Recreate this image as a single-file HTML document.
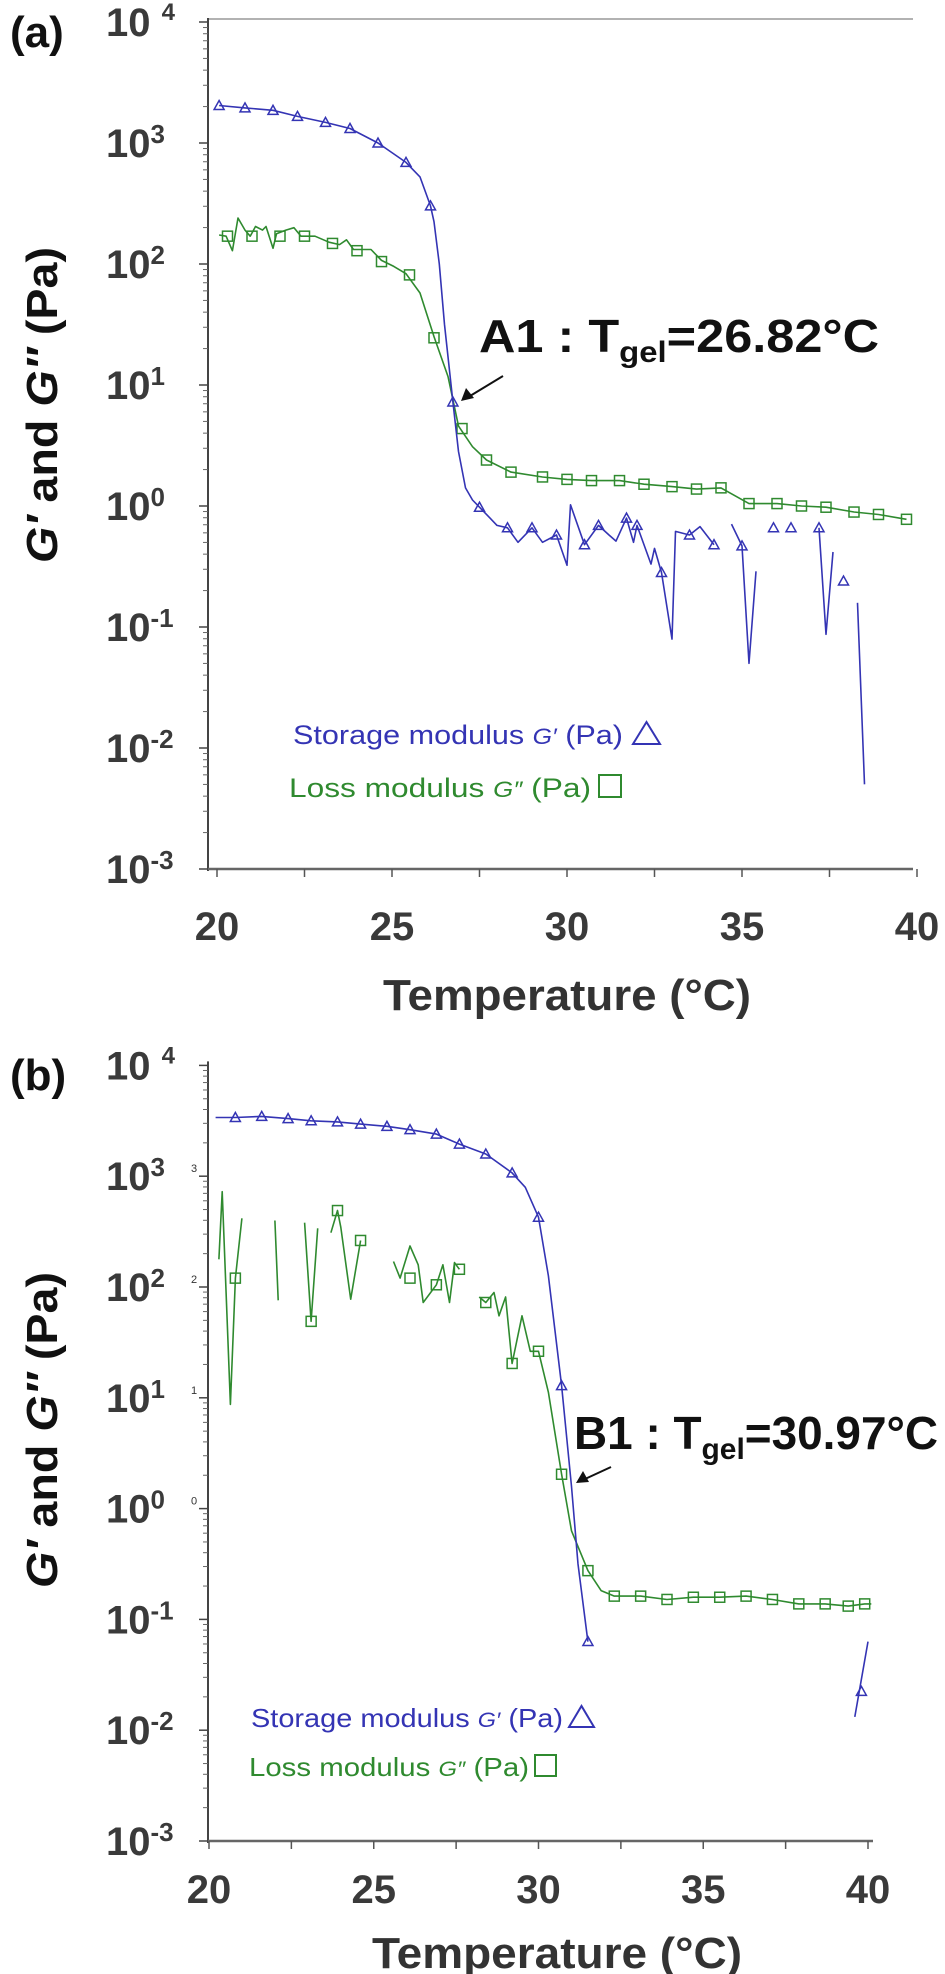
<!DOCTYPE html>
<html><head><meta charset="utf-8">
<style>
html,body{margin:0;padding:0;background:#fff;}
svg{display:block;}
text{font-family:"Liberation Sans",sans-serif;}
</style></head>
<body>
<svg id="chart" width="945" height="1974" viewBox="0 0 945 1974" xmlns="http://www.w3.org/2000/svg">
  <rect x="0" y="0" width="945" height="1974" fill="#fff"/>
  <text x="10" y="47" font-size="44" font-weight="bold" fill="#111">(a)</text>
  <text transform="translate(57,405) rotate(-90)" text-anchor="middle" font-size="44" font-weight="bold" fill="#111" textLength="316" lengthAdjust="spacingAndGlyphs"><tspan font-style="italic">G′</tspan> and <tspan font-style="italic">G″</tspan> (Pa)</text>
  <text x="567" y="1010" text-anchor="middle" font-size="44" font-weight="bold" fill="#333" textLength="368" lengthAdjust="spacingAndGlyphs">Temperature (°C)</text>
  <text x="479" y="352" font-size="46" font-weight="bold" fill="#111" textLength="400" lengthAdjust="spacingAndGlyphs">A1 : T<tspan font-size="30" dy="10">gel</tspan><tspan dy="-10">=26.82°C</tspan></text>
  <g>
    <line x1="503" y1="376" x2="470" y2="396" stroke="#111" stroke-width="2"/>
    <polygon points="461,401 466,388 474,398" fill="#111"/>
  </g>
  <g>
    <text x="293" y="744" font-size="27" fill="#3434b4" textLength="330" lengthAdjust="spacingAndGlyphs">Storage modulus <tspan font-style="italic" font-size="22">G′</tspan> (Pa)</text>
    <polygon points="633,744 660,744 646.5,722" fill="none" stroke="#3434b4" stroke-width="2"/>
    <text x="289" y="797" font-size="27" fill="#2f8a2f" textLength="302" lengthAdjust="spacingAndGlyphs">Loss modulus <tspan font-style="italic" font-size="22">G″</tspan> (Pa)</text>
    <rect x="599" y="775" width="22" height="22" fill="none" stroke="#2f8a2f" stroke-width="2"/>
  </g>
  <text x="10" y="1090" font-size="44" font-weight="bold" fill="#111">(b)</text>
  <text transform="translate(57,1430) rotate(-90)" text-anchor="middle" font-size="44" font-weight="bold" fill="#111" textLength="316" lengthAdjust="spacingAndGlyphs"><tspan font-style="italic">G′</tspan> and <tspan font-style="italic">G″</tspan> (Pa)</text>
  <text x="557" y="1968" text-anchor="middle" font-size="44" font-weight="bold" fill="#333" textLength="370" lengthAdjust="spacingAndGlyphs">Temperature (°C)</text>
  <text x="574" y="1449" font-size="46" font-weight="bold" fill="#111" textLength="364" lengthAdjust="spacingAndGlyphs">B1 : T<tspan font-size="30" dy="10">gel</tspan><tspan dy="-10">=30.97°C</tspan></text>
  <g>
    <line x1="611" y1="1467" x2="585" y2="1479" stroke="#111" stroke-width="2"/>
    <polygon points="576,1483 583,1471 589,1482" fill="#111"/>
  </g>
  <g>
    <text x="251" y="1727" font-size="26" fill="#3434b4" textLength="312" lengthAdjust="spacingAndGlyphs">Storage modulus <tspan font-style="italic" font-size="21">G′</tspan> (Pa)</text>
    <polygon points="569,1727 594,1727 581.5,1706" fill="none" stroke="#3434b4" stroke-width="2"/>
    <text x="249" y="1776" font-size="26" fill="#2f8a2f" textLength="280" lengthAdjust="spacingAndGlyphs">Loss modulus <tspan font-style="italic" font-size="21">G″</tspan> (Pa)</text>
    <rect x="535" y="1755" width="21" height="21" fill="none" stroke="#2f8a2f" stroke-width="2"/>
  </g>
  <g id="plots"></g>
</svg>
<script>
// ---------- Panel A data (temperature °C, log10 modulus Pa) ----------
const aTicksX = [20, 25, 30, 35, 40];
const aDecades = [-3, -2, -1, 0, 1, 2, 3, 4];
const aGpT = [20.06,20.8,21.6,22.3,23.1,23.8,24.6,25.4,25.8,26.1,26.2,26.35,26.5,26.74,26.9,27.1,27.3,27.5,27.8,28.0,28.3,28.6,29.0,29.3,29.7,30.0,30.1,30.5,30.9,31.2,31.4,31.7,31.9,32.0,32.4,32.5,32.7,33.0,33.1,33.5,33.8,34.2,null,34.7,35.0,35.2,35.4,null,37.2,37.4,37.6,null,38.3,38.5];
const aGpV = [3.31,3.29,3.27,3.22,3.17,3.12,3.0,2.84,2.72,2.48,2.35,2.0,1.5,0.86,0.45,0.15,0.05,-0.01,-0.1,-0.16,-0.18,-0.3,-0.18,-0.3,-0.24,-0.49,0.01,-0.32,-0.16,-0.24,-0.29,-0.1,-0.3,-0.16,-0.48,-0.35,-0.55,-1.1,-0.21,-0.24,-0.17,-0.32,null,-0.15,-0.33,-1.3,-0.54,null,-0.18,-1.06,-0.38,null,-0.8,-2.3];
const aGpMarkT = [20.06,20.8,21.6,22.3,23.1,23.8,24.6,25.4,26.1,26.74,27.5,28.3,29.0,29.7,30.5,30.9,31.7,32.0,32.7,33.5,34.2,35.0,35.9,36.4,37.2,37.9];
const aGpMarkV = [3.31,3.29,3.27,3.22,3.17,3.12,3.0,2.84,2.48,0.86,-0.01,-0.18,-0.18,-0.24,-0.32,-0.16,-0.1,-0.16,-0.55,-0.24,-0.32,-0.33,-0.18,-0.18,-0.18,-0.62];
const aGppT = [20.06,20.26,20.44,20.6,20.8,20.95,21.1,21.3,21.4,21.6,21.7,21.97,22.2,22.4,22.8,23.2,23.5,23.7,23.9,24.4,24.7,25.05,25.4,25.8,26.2,26.6,26.9,27.3,27.7,28.4,29.3,30.0,30.7,31.5,32.2,33.0,33.7,34.4,35.2,36.0,36.7,37.4,38.2,38.9,39.7];
const aGppV = [2.24,2.23,2.11,2.38,2.28,2.23,2.31,2.28,2.31,2.13,2.25,2.28,2.30,2.23,2.23,2.18,2.16,2.2,2.12,2.12,2.03,1.98,1.92,1.76,1.40,1.07,0.66,0.49,0.38,0.28,0.24,0.22,0.21,0.21,0.18,0.16,0.14,0.15,0.02,0.02,0.0,-0.01,-0.05,-0.07,-0.11];
const aGppMarkT = [20.3,21.0,21.8,22.5,23.3,24.0,24.7,25.5,26.2,27.0,27.7,28.4,29.3,30.0,30.7,31.5,32.2,33.0,33.7,34.4,35.2,36.0,36.7,37.4,38.2,38.9,39.7];
const aGppMarkV = [2.23,2.23,2.23,2.23,2.17,2.11,2.02,1.91,1.39,0.64,0.38,0.28,0.24,0.22,0.21,0.21,0.18,0.16,0.14,0.15,0.02,0.02,0.0,-0.01,-0.05,-0.07,-0.11];

// ---------- Panel B data ----------
const bTicksX = [20, 25, 30, 35, 40];
const bDecades = [-3, -2, -1, 0, 1, 2, 3, 4];
const bGpT = [20.2,20.8,21.6,22.4,23.1,23.9,24.6,25.4,26.1,26.9,27.6,28.4,29.2,29.6,30.0,30.3,30.7,31.0,31.2,31.5,null,39.6,40.0];
const bGpV = [3.53,3.53,3.54,3.52,3.50,3.49,3.47,3.45,3.42,3.38,3.29,3.20,3.03,2.9,2.63,2.1,1.11,0.2,-0.5,-1.2,null,-1.88,-1.2];
const bGpMarkT = [20.8,21.6,22.4,23.1,23.9,24.6,25.4,26.1,26.9,27.6,28.4,29.2,30.0,30.7,31.5,39.8];
const bGpMarkV = [3.53,3.54,3.52,3.50,3.49,3.47,3.45,3.42,3.38,3.29,3.20,3.03,2.63,1.11,-1.2,-1.65];
const bGppT = [20.3,20.4,20.65,20.8,21.0,null,22.0,22.1,null,22.9,23.1,23.3,null,23.7,23.9,24.0,24.3,24.6,null,25.6,25.8,26.1,26.35,26.5,26.9,27.1,27.3,27.45,27.6,null,28.2,28.4,28.65,28.8,29.0,29.2,29.5,29.75,30.0,30.3,30.7,31.0,31.5,31.9,32.3,33.1,33.9,34.7,35.5,36.3,37.1,37.9,38.7,39.4,39.9,40.1];
const bGppV = [2.25,2.86,0.94,2.08,2.62,null,2.6,1.88,null,2.58,1.69,2.53,null,2.49,2.69,2.54,1.89,2.42,null,2.23,2.08,2.37,2.2,1.86,2.02,2.2,1.86,2.22,2.16,null,1.91,1.86,1.95,1.74,1.91,1.31,1.74,1.42,1.42,1.05,0.31,-0.2,-0.56,-0.74,-0.79,-0.79,-0.82,-0.8,-0.8,-0.79,-0.82,-0.86,-0.86,-0.88,-0.86,-0.86];
const bGppMarkT = [20.8,23.1,23.9,24.6,26.1,26.9,27.6,28.4,29.2,30.0,30.7,31.5,32.3,33.1,33.9,34.7,35.5,36.3,37.1,37.9,38.7,39.4,39.9];
const bGppMarkV = [2.08,1.69,2.69,2.42,2.08,2.02,2.16,1.86,1.31,1.42,0.31,-0.56,-0.79,-0.79,-0.82,-0.8,-0.8,-0.79,-0.82,-0.86,-0.86,-0.88,-0.86];

const NS = "http://www.w3.org/2000/svg";
const BLUE = "#3434b4", GREEN = "#2f8a2f", AXIS = "#444";
const root = document.getElementById('plots');
function mk(tag, attrs, parent) {
  const e = document.createElementNS(NS, tag);
  for (const k in attrs) e.setAttribute(k, attrs[k]);
  (parent || root).appendChild(e);
  return e;
}

function drawPanel(cfg) {
  const g = mk('g', {});
  
  
  const X = t => cfg.x0 + (t - 20) * cfg.kx;
  const Y = v => cfg.yBottom - (v + 3) * cfg.ky;
  if (cfg.topBorder) {
    const tb = mk('line', {x1: cfg.axisX, y1: cfg.topBorder, x2: cfg.xRight, y2: cfg.topBorder, stroke: '#999', 'stroke-width': 1.5}, g);
    
    
  }
  const ya = mk('line', {x1: cfg.axisX, y1: Y(4) - 4, x2: cfg.axisX, y2: cfg.yBottom + 2, stroke: AXIS, 'stroke-width': 2}, g);
  
  
  const xa = mk('line', {x1: cfg.axisX, y1: cfg.yBottom, x2: cfg.xRight, y2: cfg.yBottom, stroke: '#666', 'stroke-width': 2.5}, g);
  
  
  cfg.decades.forEach(d => {
    const y = Y(d);
    mk('line', {x1: cfg.axisX - 9, y1: y, x2: cfg.axisX, y2: y, stroke: AXIS, 'stroke-width': 1.5}, g);
    if (d < 4) for (let m = 2; m < 10; m++) {
      const ym = Y(d + Math.log10(m));
      mk('line', {x1: cfg.axisX - 5, y1: ym, x2: cfg.axisX, y2: ym, stroke: '#666', 'stroke-width': 1}, g);
    }
    const t = mk('text', {x: cfg.labelX, y: y + 14, 'font-size': 40, 'font-weight': 'bold', fill: '#3a3a3a'}, g);
    
    
    if (d === 4) {
      t.textContent = '10 ';
      const s = mk('tspan', {'font-size': 24, dy: -16}, t); s.textContent = String(d);
    } else {
      t.textContent = '10';
      const s = mk('tspan', {'font-size': 26, dy: -14}, t); s.textContent = String(d);
    }
    if (cfg.smallLabels && d >= 0 && d <= 3) {
      const sl = mk('text', {x: cfg.axisX - 17, y: y - 4, 'font-size': 11, fill: '#333'}, g);
      
      
      sl.textContent = String(d);
    }
  });
  for (let t = 20; t <= 40; t += 2.5) {
    mk('line', {x1: X(t), y1: cfg.yBottom, x2: X(t), y2: cfg.yBottom + 8, stroke: '#555', 'stroke-width': 1.5}, g);
  }
  cfg.ticksX.forEach(t => {
    const tx = mk('text', {x: X(t), y: cfg.xLabelY, 'text-anchor': 'middle', 'font-size': 40, 'font-weight': 'bold', fill: '#3a3a3a'}, g);
    
    
    tx.textContent = String(t);
  });
  function line(ts, vs, color, name) {
    let d = '', pen = false;
    for (let i = 0; i < ts.length; i++) {
      if (ts[i] === null || vs[i] === null) { pen = false; continue; }
      d += (pen ? 'L' : 'M') + X(ts[i]).toFixed(1) + ',' + Y(vs[i]).toFixed(1);
      pen = true;
    }
    const p = mk('path', {d: d, fill: 'none', stroke: color, 'stroke-width': 1.6, 'stroke-linejoin': 'round'}, g);
    
    
  }
  function tris(ts, vs, name) {
    for (let i = 0; i < ts.length; i++) {
      const x = X(ts[i]), y = Y(vs[i]);
      const p = mk('polygon', {points: `${x-5},${y+4} ${x+5},${y+4} ${x},${y-5}`, fill: 'none', stroke: BLUE, 'stroke-width': 1.5}, g);
      
      
    }
  }
  function squares(ts, vs, name) {
    for (let i = 0; i < ts.length; i++) {
      const x = X(ts[i]), y = Y(vs[i]);
      const r = mk('rect', {x: x - 5, y: y - 5, width: 10, height: 10, fill: 'none', stroke: GREEN, 'stroke-width': 1.5}, g);
      
      
    }
  }
  line(cfg.gppT, cfg.gppV, GREEN, 'loss-modulus-line');
  squares(cfg.gppMT, cfg.gppMV, 'loss-modulus-marker');
  line(cfg.gpT, cfg.gpV, BLUE, 'storage-modulus-line');
  tris(cfg.gpMT, cfg.gpMV, 'storage-modulus-marker');
}

drawPanel({name: 'panel-a-plot', x0: 217, kx: 35.0, yBottom: 869, ky: 121, axisX: 208, xRight: 913,
  topBorder: 19, labelX: 106, xLabelY: 940, decades: aDecades, ticksX: aTicksX, smallLabels: false,
  gpT: aGpT, gpV: aGpV, gpMT: aGpMarkT, gpMV: aGpMarkV,
  gppT: aGppT, gppV: aGppV, gppMT: aGppMarkT, gppMV: aGppMarkV});

drawPanel({name: 'panel-b-plot', x0: 209, kx: 32.95, yBottom: 1841, ky: 110.8, axisX: 208, xRight: 873,
  topBorder: 0, labelX: 106, xLabelY: 1903, decades: bDecades, ticksX: bTicksX, smallLabels: true,
  gpT: bGpT, gpV: bGpV, gpMT: bGpMarkT, gpMV: bGpMarkV,
  gppT: bGppT, gppV: bGppV, gppMT: bGppMarkT, gppMV: bGppMarkV});
</script>
</body></html>
